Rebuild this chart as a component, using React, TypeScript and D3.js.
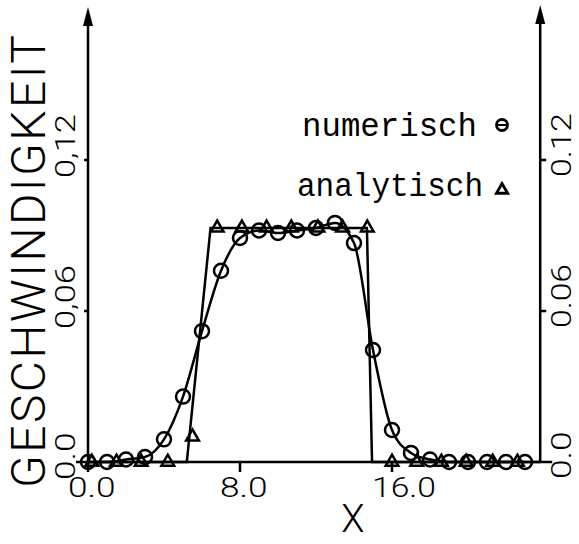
import React from "react";
import * as d3 from "d3";

// axis ticks
const xTicks = [0, 8, 16];
const xTickLabels = ["0.0", "8.0", "16.0"];
const yTicks = [0, 0.06, 0.12];
const yLabelsLeft = ["0.0", "0,06", "0,12"];
const yLabelsRight = ["0.0", "0.06", "0.12"];

// numerisch (circles, smooth line)
const numX = [0, 1, 2, 3, 4, 5, 6, 7, 8, 9, 10, 11, 12, 13, 14, 15, 16, 17, 18, 19, 20, 21, 22, 23];
const numV = [0, 0, 0.001, 0.002, 0.009, 0.026, 0.052, 0.076, 0.089, 0.092, 0.091, 0.092,
  0.093, 0.095, 0.087, 0.0445, 0.0127, 0.0036, 0.001, 0, 0, 0, 0, 0];

// analytisch (triangles and the exact profile)
const anaX = [0.2, 1.5, 2.8, 4.2, 5.5, 6.8, 8.1, 9.4, 10.7, 12.1, 13.4, 14.7, 16.0, 17.3, 18.6, 19.9, 21.3, 22.6];
const anaV = [0, 0, 0, 0, 0.010, 0.093, 0.093, 0.093, 0.093, 0.093, 0.093, 0.093, 0, 0, 0, 0, 0, 0];
const anaLineX = [0, 5.2, 6.45, 14.68, 14.95, 23.8];
const anaLineV = [0, 0, 0.093, 0.093, 0, 0];

const W = 579;
const H = 544;
const plot = "Roboto, 'DejaVu Sans', sans-serif";

export default function App() {
  const x = d3.scaleLinear().domain([0, 8]).range([88, 240]);
  const y = d3.scaleLinear().domain([0, 0.12]).range([462, 160]);
  const xEnd = 23.8;
  const left = x(0);
  const right = x(xEnd);
  const base = y(0);

  const line = d3.line<[number, number]>()
    .x((d) => x(d[0]))
    .y((d) => y(d[1]));
  const smooth = d3.line<[number, number]>()
    .x((d) => x(d[0]))
    .y((d) => y(d[1]))
    .curve(d3.curveMonotoneX);

  const numPts = numX.map((v, i) => [v, numV[i]] as [number, number]);
  const anaPts = anaLineX.map((v, i) => [v, anaLineV[i]] as [number, number]);
  const tri = d3.symbol(d3.symbolTriangle, 70)() as string;

  const arrow = (ax: number, tip: number) =>
    `M${ax},${tip} L${ax - 5},${tip + 19} L${ax + 5},${tip + 19} Z`;

  return (
    <svg width={W} height={H} style={{ position: "absolute", left: 0, top: 0, background: "#fff" }}>
      <g stroke="#000" strokeWidth={2.5} fill="none">
        {/* axes */}
        <line x1={left - 12} x2={right + 12} y1={base} y2={base} />
        <line x1={left} x2={left} y1={base + 6} y2={14} />
        <line x1={right} x2={right} y1={base} y2={12} />
        {xTicks.map((t) => (
          <line key={t} x1={x(t)} x2={x(t)} y1={base} y2={base + 10} />
        ))}
        {yTicks.slice(1).map((t) => (
          <g key={t}>
            <line x1={left - 4} x2={left} y1={y(t)} y2={y(t)} />
            <line x1={right} x2={right + 6} y1={y(t)} y2={y(t)} />
          </g>
        ))}
        {/* curves */}
        <path d={line(anaPts) as string} />
        <path d={smooth(numPts) as string} />
        {numPts.map((d, i) => (
          <circle key={i} cx={x(d[0])} cy={y(d[1])} r={7} strokeWidth={2.5} />
        ))}
        {anaX.map((v, i) => (
          <path key={i} d={tri} transform={`translate(${x(v)},${y(anaV[i])})`} strokeWidth={2.5} />
        ))}
      </g>
      <path d={arrow(left, 7)} fill="#000" />
      <path d={arrow(right, 5)} fill="#000" />

      {/* tick labels */}
      <g fontFamily={plot} fontWeight={300} fontSize={27} fill="#000">
        {xTicks.map((t, i) => (
          <text key={t} x={x(t) - 20} y={497} textLength={xTickLabels[i].length * 16.5 - 2} lengthAdjust="spacingAndGlyphs">
            {xTickLabels[i]}
          </text>
        ))}
        {yTicks.map((t, i) => (
          <text key={"l" + t} transform={`translate(75,${y(t) + 18}) rotate(-90)`}
            textLength={yLabelsLeft[i].length * 16.5 - 2} lengthAdjust="spacingAndGlyphs">
            {yLabelsLeft[i]}
          </text>
        ))}
        {yTicks.map((t, i) => (
          <text key={"r" + t} transform={`translate(571,${y(t) + 17}) rotate(-90)`}
            textLength={yLabelsRight[i].length * 16.5 - 2} lengthAdjust="spacingAndGlyphs">
            {yLabelsRight[i]}
          </text>
        ))}
      </g>

      {/* axis titles */}
      <text transform="translate(45,488) rotate(-90)" fontFamily={plot} fontWeight={300} fontSize={48}
        textLength={453} lengthAdjust="spacing">GESCHWINDIGKEIT</text>
      <text x={353} y={532} textAnchor="middle" fontFamily={plot} fontWeight={300} fontSize={38}>X</text>

      {/* legend */}
      <g fontFamily="'Liberation Mono', monospace" fontSize={33} fill="#000">
        <text x={302} y={136} textLength={175} lengthAdjust="spacingAndGlyphs">numerisch</text>
        <text x={297} y={196} textLength={186} lengthAdjust="spacingAndGlyphs">analytisch</text>
      </g>
      <g stroke="#000" strokeWidth={2.8} fill="none">
        <circle cx={502} cy={125} r={5.5} />
        <line x1={497} x2={507} y1={125} y2={125} strokeWidth={2} />
        <path d={d3.symbol(d3.symbolTriangle, 55)() as string} transform="translate(502,190)" />
      </g>
    </svg>
  );
}
